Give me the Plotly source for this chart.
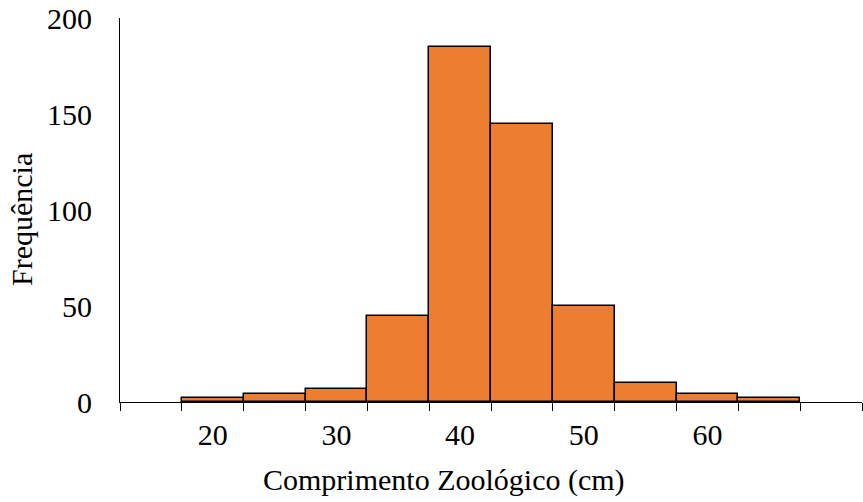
import plotly.graph_objects as go

bin_centers = [20, 25, 30, 35, 40, 45, 50, 55, 60, 65]
frequencies = [2, 4, 7, 45, 185, 145, 50, 10, 4, 2]
x_tick_labels = [20, 30, 40, 50, 60]
y_tick_labels = [0, 50, 100, 150, 200]

font_family = "Liberation Serif"
tick_font = dict(family=font_family, size=30, color="black")
title_font = dict(family=font_family, size=30, color="black")

fig = go.Figure()
fig.add_trace(go.Bar(
    x=bin_centers,
    y=frequencies,
    width=5,
    marker=dict(color="#ED7D31", line=dict(color="black", width=1.5)),
    hoverinfo="skip",
))

fig.update_layout(
    width=863, height=502,
    margin=dict(l=120, r=1, t=18, b=100),
    plot_bgcolor="white",
    paper_bgcolor="white",
    showlegend=False,
    bargap=0,
    font=dict(family=font_family, size=30, color="black"),
    xaxis=dict(
        range=[12.5, 72.5],
        tickvals=x_tick_labels,
        ticktext=[str(v) for v in x_tick_labels],
        ticks="outside", ticklen=6, tickcolor="rgba(0,0,0,0)",
        showline=True, linecolor="black", linewidth=1,
        showgrid=False, zeroline=False,
        minor=dict(ticks="outside", tick0=12.5, dtick=5, ticklen=8,
                   tickcolor="black", tickwidth=1, showgrid=False),
        tickfont=tick_font,
        automargin=False,
    ),
    yaxis=dict(
        range=[0, 200],
        tickvals=y_tick_labels,
        ticks="outside", ticklen=21, tickcolor="rgba(0,0,0,0)",
        showline=True, linecolor="black", linewidth=1,
        showgrid=False, zeroline=False,
        tickfont=tick_font,
        automargin=False,
    ),
    annotations=[
        dict(text="Comprimento Zoológico (cm)", xref="paper", yref="paper",
             x=(444 - 120) / 742, y=(402 - 480) / 384,
             xanchor="center", yanchor="middle", showarrow=False, font=title_font),
        dict(text="Frequência", xref="paper", yref="paper",
             x=(21 - 120) / 742, y=(402 - 220) / 384, textangle=-90,
             xanchor="center", yanchor="middle", showarrow=False, font=title_font),
    ],
)

fig.write_html(
    "out.html",
    config={"displayModeBar": False},
    post_script="document.body.style.margin='0';document.body.style.overflow='hidden';",
)
